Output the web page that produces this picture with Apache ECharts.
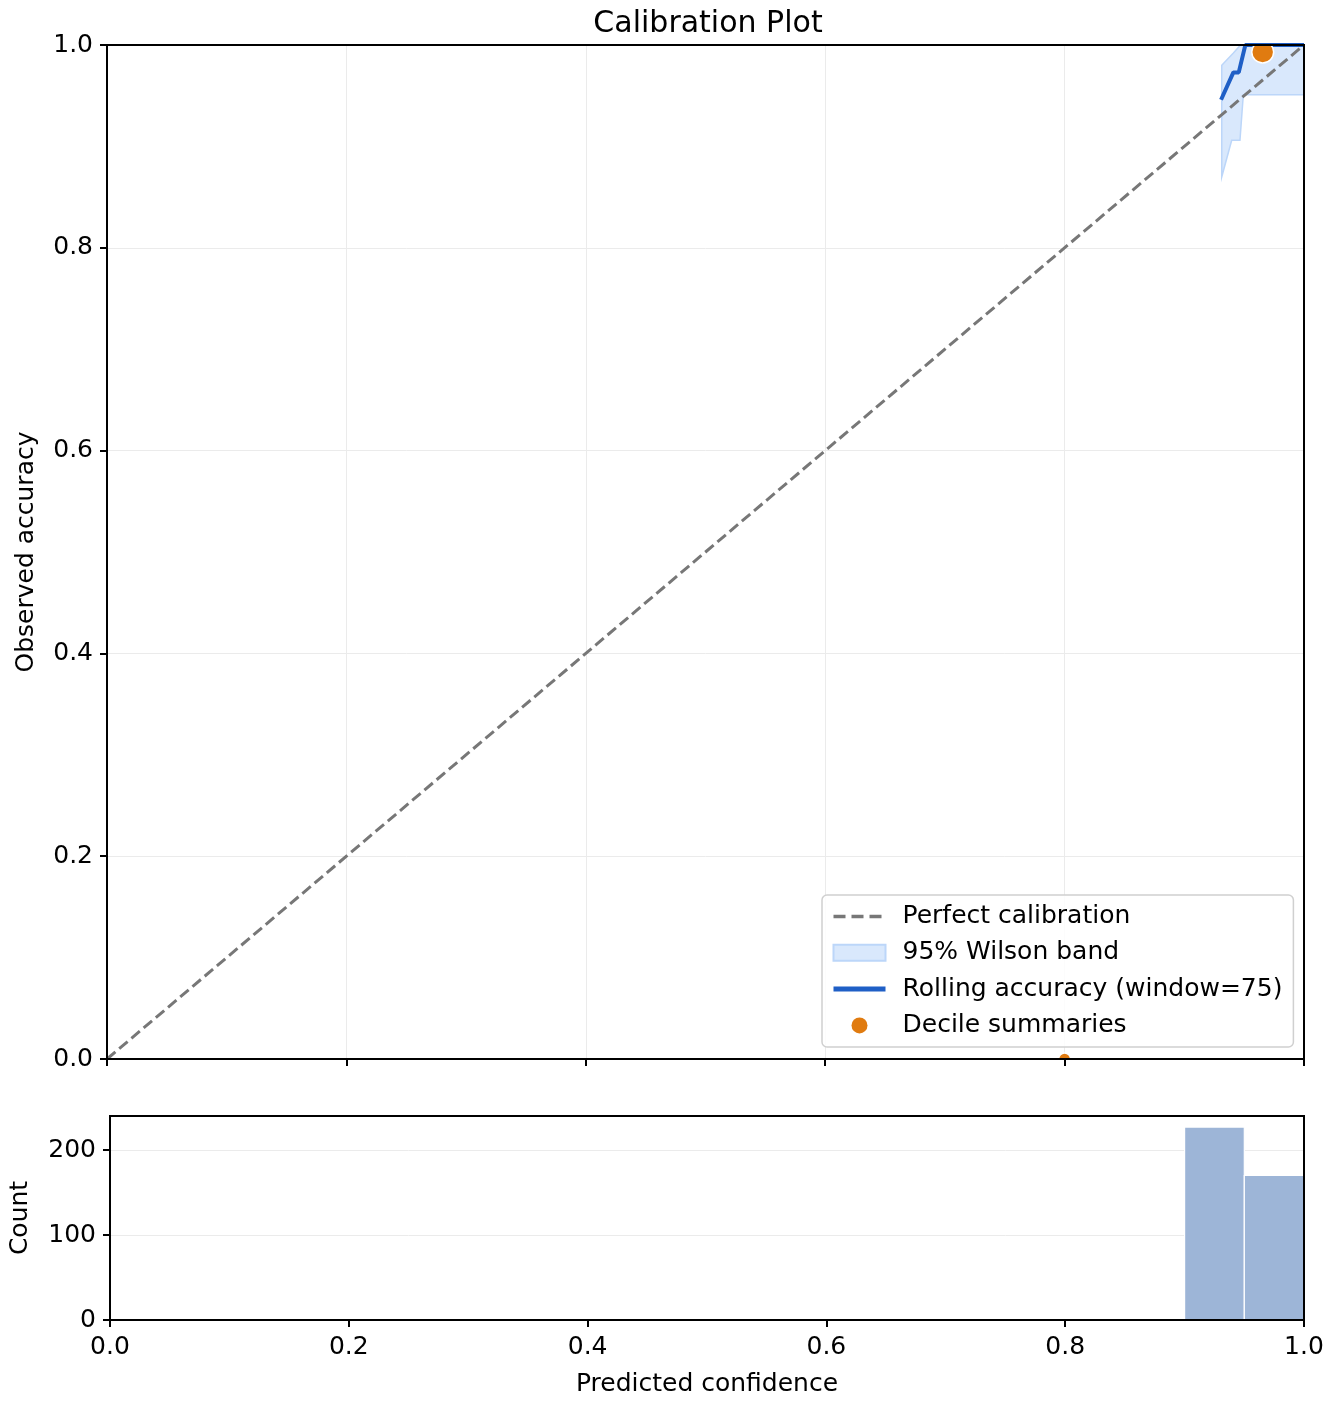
<!DOCTYPE html>
<html>
<head>
<meta charset="utf-8">
<script src="https://cdn.jsdelivr.net/npm/echarts@6/dist/echarts.min.js"></script>
<style>
html,body{margin:0;padding:0;background:#fff;}
#chart{width:1332px;height:1404px;}
</style>
</head>
<body>
<div id="chart"></div>
<script>
// ---- data ----
const perfectX = [0, 1];
const perfectY = [0, 1];

const rollX = [0.9307, 0.941, 0.9455, 0.951, 1.0];
const rollY = [0.946, 0.973, 0.973, 1.0, 1.0];

const bandUpperX = [0.9313, 0.941, 0.947, 1.0];
const bandUpperY = [0.980, 0.992, 1.0, 1.0];
const bandLowerX = [0.9313, 0.9396, 0.9465, 0.9493, 1.0];
const bandLowerY = [0.870, 0.906, 0.906, 0.951, 0.951];

const decileX = [0.8, 0.9655];
const decileY = [0.0, 0.993];
const decileWeight = [1, 4]; // relative marker weight

const binStart = [0.9, 0.95];
const binEnd = [0.95, 1.0];
const binCount = [227, 170];

const countTicks = [0, 100, 200];

// ---- styles ----
const FONT = 'DejaVu Sans';
const FS = 25;
const C_DASH = '#777777';
const C_BLUE = '#1f5fc6';
const C_BAND = '#d9e8fc';
const C_BAND_EDGE = '#bcd6f9';
const C_ORANGE = '#e07b10';
const C_HIST = '#9db5d7';
const C_GRID = '#ebebeb';

const chart = echarts.init(document.getElementById('chart'), null, {renderer: 'canvas'});

const axisCommon = {
  axisLine: {show: true, onZero: false, lineStyle: {color: '#000', width: 2}},
  axisTick: {show: true, inside: false, length: 7, lineStyle: {color: '#000', width: 2}},
  axisLabel: {color: '#000', fontFamily: FONT, fontSize: FS},
  splitLine: {show: true, lineStyle: {color: C_GRID, width: 1}}
};
const nameStyle = {fontFamily: FONT, fontSize: FS, color: '#000'};

const option = {
  animation: false,
  backgroundColor: '#fff',
  title: {
    text: 'Calibration Plot',
    left: 703, textAlign: 'center', top: 4,
    textStyle: {fontFamily: FONT, fontSize: 30, fontWeight: 'normal', color: '#000'}
  },
  grid: [
    {left: 107, right: 28, top: 45, height: 1014, show: true, z: 10, borderColor: '#000', borderWidth: 2, backgroundColor: 'transparent'},
    {left: 107, right: 28, top: 1116, height: 204, show: true, z: 10, borderColor: '#000', borderWidth: 2, backgroundColor: 'transparent'}
  ],
  xAxis: [
    Object.assign({}, axisCommon, {
      type: 'value', gridIndex: 0, min: 0, max: 1, interval: 0.2,
      axisLabel: {show: false}
    }),
    Object.assign({}, axisCommon, {
      type: 'value', gridIndex: 1, min: 0, max: 1, interval: 0.2,
      name: 'Predicted confidence', nameLocation: 'middle', nameGap: 52,
      nameTextStyle: nameStyle,
      axisLabel: {color: '#000', fontFamily: FONT, fontSize: FS, margin: 15,
        formatter: v => v.toFixed(1)},
      splitLine: {show: false}
    })
  ],
  yAxis: [
    Object.assign({}, axisCommon, {
      type: 'value', gridIndex: 0, min: 0, max: 1, interval: 0.2,
      name: 'Observed accuracy', nameLocation: 'middle', nameGap: 68,
      nameTextStyle: nameStyle,
      axisLabel: {color: '#000', fontFamily: FONT, fontSize: FS, margin: 14,
        formatter: v => v.toFixed(1)}
    }),
    Object.assign({}, axisCommon, {
      type: 'value', gridIndex: 1, min: 0, max: 240, interval: 100,
      name: 'Count', nameLocation: 'middle', nameGap: 77,
      nameTextStyle: nameStyle,
      axisLabel: {color: '#000', fontFamily: FONT, fontSize: FS, margin: 14,
        customValues: countTicks},
      axisTick: {show: true, length: 7, lineStyle: {color: '#000', width: 2}, customValues: countTicks}
    })
  ],
  legend: {
    orient: 'vertical',
    left: 822, top: 895,
    padding: [9, 11, 9, 9],
    itemWidth: 52, itemHeight: 16, itemGap: 11.3,
    backgroundColor: 'rgba(255,255,255,0.85)',
    borderColor: '#d0d0d0', borderWidth: 1.5, borderRadius: 5,
    textStyle: {fontFamily: FONT, fontSize: FS, color: '#000', padding: [0, 0, 0, 12]},
    data: [
      {name: 'Perfect calibration',
        itemStyle: {color: 'rgba(0,0,0,0)', borderWidth: 0, opacity: 0},
        lineStyle: {color: C_DASH, width: 3.5, type: [12, 6]}},
      {name: '95% Wilson band', icon: 'rect',
        itemStyle: {color: C_BAND, borderColor: C_BAND_EDGE, borderWidth: 2}},
      {name: 'Rolling accuracy (window=75)',
        itemStyle: {color: 'rgba(0,0,0,0)', borderWidth: 0, opacity: 0},
        lineStyle: {color: C_BLUE, width: 5}},
      {name: 'Decile summaries', icon: 'circle', itemStyle: {color: C_ORANGE}}
    ]
  },
  series: [
    {
      name: '95% Wilson band', type: 'custom', xAxisIndex: 0, yAxisIndex: 0,
      clip: true, z: 1,
      itemStyle: {color: C_BAND},
      data: [[bandUpperX[0], bandUpperY[0]]],
      renderItem: function (params, api) {
        const pts = [];
        for (let i = 0; i < bandUpperX.length; i++) pts.push(api.coord([bandUpperX[i], bandUpperY[i]]));
        for (let i = bandLowerX.length - 1; i >= 0; i--) pts.push(api.coord([bandLowerX[i], bandLowerY[i]]));
        return {
          type: 'polygon',
          shape: {points: pts},
          style: {fill: C_BAND, stroke: C_BAND_EDGE, lineWidth: 1.5}
        };
      }
    },
    {
      name: 'Perfect calibration', type: 'line', xAxisIndex: 0, yAxisIndex: 0,
      symbol: 'none', z: 3,
      data: perfectX.map((x, i) => [x, perfectY[i]]),
      lineStyle: {color: C_DASH, width: 3, type: [11, 5]},
      itemStyle: {color: C_DASH}
    },
    {
      name: 'Rolling accuracy (window=75)', type: 'line', xAxisIndex: 0, yAxisIndex: 0,
      symbol: 'none', z: 4,
      data: rollX.map((x, i) => [x, rollY[i]]),
      lineStyle: {color: C_BLUE, width: 4},
      itemStyle: {color: C_BLUE}
    },
    {
      name: 'Decile summaries', type: 'custom', xAxisIndex: 0, yAxisIndex: 0,
      clip: true, z: 5,
      itemStyle: {color: C_ORANGE},
      data: decileX.map((x, i) => [x, decileY[i], decileWeight[i]]),
      renderItem: function (params, api) {
        const p = api.coord([api.value(0), api.value(1)]);
        const r = 6 + 1.65 * (api.value(2) - 1);
        return {
          type: 'circle',
          shape: {cx: p[0], cy: p[1], r: r},
          style: {fill: C_ORANGE, stroke: '#fff', lineWidth: 1.5}
        };
      }
    },
    {
      name: 'hist', type: 'custom', xAxisIndex: 1, yAxisIndex: 1,
      clip: true, z: 2,
      data: binStart.map((s, i) => [s, binEnd[i], binCount[i]]),
      renderItem: function (params, api) {
        const a = api.coord([api.value(0), api.value(2)]);
        const b = api.coord([api.value(1), 0]);
        return {
          type: 'rect',
          shape: {x: a[0], y: a[1], width: b[0] - a[0], height: b[1] - a[1]},
          style: {fill: C_HIST, stroke: '#fff', lineWidth: 1.2}
        };
      }
    }
  ]
};

chart.setOption(option);
</script>
</body>
</html>
